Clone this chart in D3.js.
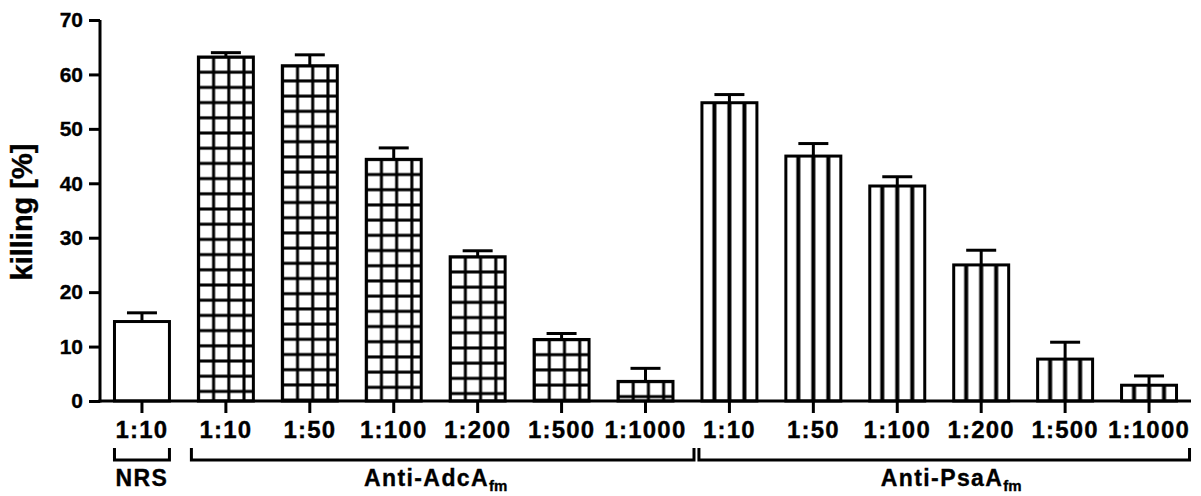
<!DOCTYPE html>
<html>
<head>
<meta charset="utf-8">
<script src="https://cdn.jsdelivr.net/npm/d3@7"></script>
<style>
  html, body { margin: 0; padding: 0; background: #fff; }
  svg { display: block; }
  text { font-family: "Liberation Sans", Arial, sans-serif; font-weight: bold; fill: #000; stroke: #000; stroke-width: 0.35px; }
</style>
</head>
<body>
<svg id="chart" width="1201" height="496"></svg>
<script>
// ---- data ----
const categories = ["1:10", "1:10", "1:50", "1:100", "1:200", "1:500", "1:1000",
                    "1:10", "1:50", "1:100", "1:200", "1:500", "1:1000"];
const groupOf    = ["NRS", "AdcA", "AdcA", "AdcA", "AdcA", "AdcA", "AdcA",
                    "PsaA", "PsaA", "PsaA", "PsaA", "PsaA", "PsaA"];
const killing    = [14.6, 63.2, 61.6, 44.4, 26.5, 11.3, 3.6,
                    54.8, 45.0, 39.5, 25.0, 7.7, 2.9];
const errorUp    = [1.6, 0.8, 2.0, 2.1, 1.1, 1.1, 2.4,
                    1.5, 2.3, 1.7, 2.7, 3.1, 1.7];
const yTicks     = [0, 10, 20, 30, 40, 50, 60, 70];
const groupNames = ["NRS", "Anti-AdcA", "Anti-PsaA"];
const groupSubs  = ["", "fm", "fm"];
const groupFirst = [0, 1, 7];
const groupLast  = [0, 6, 12];

// ---- layout ----
const svg = d3.select("#chart");
const W = 1201, H = 496;
const mLeft = 100, mRight = 1191, mTop = 20, mBottom = 401;
const SW = 3;

svg.append("rect").attr("width", W).attr("height", H).attr("fill", "#fff");

const idx = d3.range(categories.length);
const x = d3.scaleBand().domain(idx).range([mLeft, mRight])
  .paddingInner(0.345).paddingOuter(0.1725);
const y = d3.scaleLinear().domain([0, 70]).range([mBottom, mTop]);
const bw = x.bandwidth();
const cx = i => x(i) + bw / 2;

// ---- patterns ----
const defs = svg.append("defs");
const P = 15.2;
idx.forEach(i => {
  const g = groupOf[i];
  if (g === "AdcA") {
    const p = defs.append("pattern").attr("id", "pat" + i)
      .attr("patternUnits", "userSpaceOnUse")
      .attr("x", x(i) - P / 2).attr("y", y(killing[i]) - P / 2)
      .attr("width", P).attr("height", P);
    p.append("rect").attr("width", P).attr("height", P).attr("fill", "#fff");
    p.append("rect").attr("x", P / 2 - 1.5).attr("y", 0).attr("width", 3).attr("height", P).attr("fill", "#000");
    p.append("rect").attr("x", 0).attr("y", P / 2 - 1.5).attr("width", P).attr("height", 3).attr("fill", "#000");
  } else if (g === "PsaA") {
    const p = defs.append("pattern").attr("id", "pat" + i)
      .attr("patternUnits", "userSpaceOnUse")
      .attr("x", cx(i) - 7.5).attr("y", 0)
      .attr("width", 15).attr("height", 10);
    p.append("rect").attr("width", 15).attr("height", 10).attr("fill", "#fff");
    p.append("rect").attr("x", 5.5).attr("y", 0).attr("width", 4).attr("height", 10).attr("fill", "#000");
  }
});

// ---- bars ----
svg.append("g").selectAll("rect").data(idx).join("rect")
  .attr("x", i => x(i))
  .attr("y", i => y(killing[i]))
  .attr("width", bw)
  .attr("height", i => y(0) - y(killing[i]))
  .attr("fill", i => groupOf[i] === "NRS" ? "#fff" : `url(#pat${i})`)
  .attr("stroke", "#000").attr("stroke-width", SW);

// ---- error bars ----
const eg = svg.append("g").attr("stroke", "#000").attr("stroke-width", SW).attr("fill", "none");
eg.selectAll("line.v").data(idx).join("line").attr("class", "v")
  .attr("x1", cx).attr("x2", cx)
  .attr("y1", i => y(killing[i])).attr("y2", i => y(killing[i] + errorUp[i]));
eg.selectAll("line.c").data(idx).join("line").attr("class", "c")
  .attr("x1", i => cx(i) - 15).attr("x2", i => cx(i) + 15)
  .attr("y1", i => y(killing[i] + errorUp[i])).attr("y2", i => y(killing[i] + errorUp[i]));

// ---- axes ----
const yAxis = svg.append("g").attr("transform", `translate(${mLeft},0)`)
  .call(d3.axisLeft(y).tickValues(yTicks).tickSize(11).tickPadding(6).tickSizeOuter(0));
yAxis.select(".domain").attr("stroke-width", SW).attr("d", `M0,${mTop}V${mBottom + 1.5}`);
yAxis.selectAll(".tick line").attr("stroke-width", SW);
yAxis.selectAll(".tick text").attr("font-size", 21).attr("font-family", null);

const xAxis = svg.append("g").attr("transform", `translate(0,${mBottom})`)
  .call(d3.axisBottom(x).tickFormat(i => categories[i]).tickSize(12).tickPadding(8).tickSizeOuter(0));
xAxis.select(".domain").attr("stroke-width", SW).attr("d", `M${mLeft - 1.5},0H${mRight}`);
xAxis.selectAll(".tick line").attr("stroke-width", SW);
xAxis.selectAll(".tick text").attr("font-size", 24).attr("font-family", null)
  .attr("letter-spacing", "1.2px");

// y title
svg.append("text")
  .attr("transform", "translate(32,212) rotate(-90)")
  .attr("text-anchor", "middle")
  .attr("font-size", 29)
  .text("killing [%]");

// ---- group brackets and labels ----
const bracketExt = [[0, 0], [-7, 21], [-3, 13]];
const labelDx = [0, 0, 12];
const bTop = 448, bBot = 460;
groupNames.forEach((name, gi) => {
  const x0 = x(groupFirst[gi]) + bracketExt[gi][0];
  const x1 = x(groupLast[gi]) + bw + bracketExt[gi][1];
  svg.append("path")
    .attr("d", `M${x0},${bTop}V${bBot}H${x1}V${bTop}`)
    .attr("fill", "none").attr("stroke", "#000").attr("stroke-width", SW);
  const mid = (cx(groupFirst[gi]) + cx(groupLast[gi])) / 2 + labelDx[gi];
  const t = svg.append("text")
    .attr("x", mid).attr("y", 486)
    .attr("text-anchor", "middle")
    .attr("font-size", 23)
    .attr("letter-spacing", "1.4px");
  t.append("tspan").text(name);
  if (groupSubs[gi]) {
    t.append("tspan").attr("font-size", 15).attr("dy", 5).attr("letter-spacing", "0px").text(groupSubs[gi]);
  }
});
</script>
</body>
</html>
